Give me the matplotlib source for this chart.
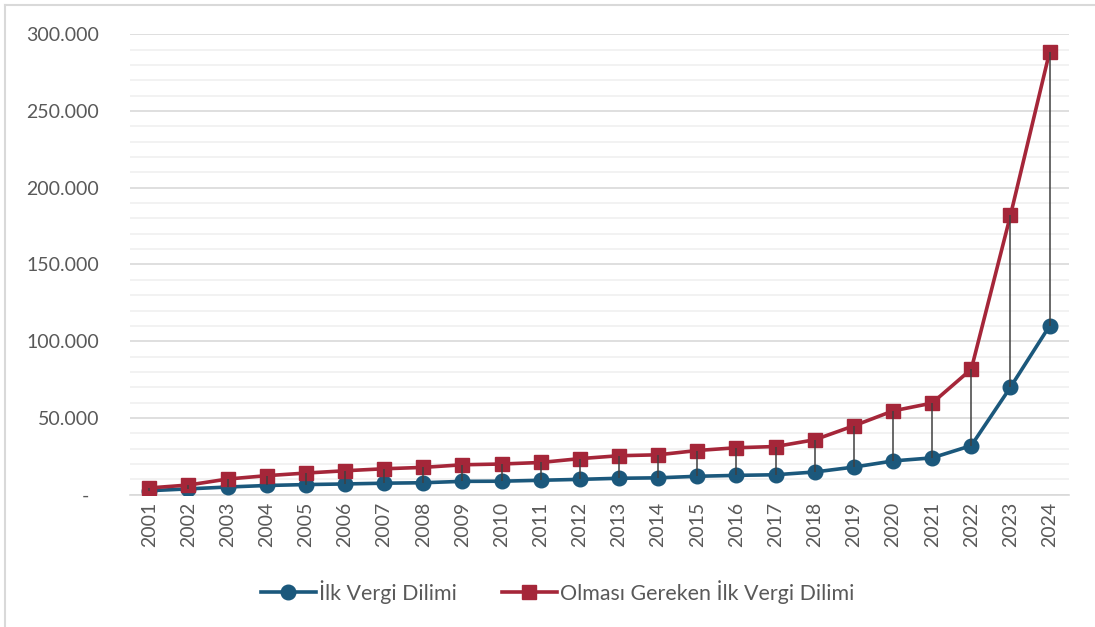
"""Line chart: first income-tax bracket vs. what it should have been, 2001-2024."""
import numpy as np, matplotlib
matplotlib.use("Agg")
import matplotlib.pyplot as plt
from matplotlib.ticker import MultipleLocator, FuncFormatter

years = list(range(2001, 2025))
ilk_dilim = [2600, 3800, 5000, 6000, 6600, 7000, 7500, 7800, 8700, 8800, 9400, 10000,
             10700, 11000, 12000, 12600, 13000, 14800, 18000, 22000, 24000, 32000, 70000, 110000]
olmasi_gereken = [4400, 6300, 10200, 12400, 14100, 15600, 16900, 17800, 19500, 20000, 21000, 23500,
                  25400, 26000, 28800, 30600, 31400, 35800, 44900, 54600, 59700, 81800, 182000, 288500]

BLUE, RED, GRAY = "#1b587c", "#a52639", "#595959"


def _fmt(v, _):
    if v == 0:
        return "-  "
    return f"{int(v):,}".replace(",", ".")


def main(out="out.png"):
    plt.rcParams["font.family"] = ["Lato", "DejaVu Sans"]
    fig = plt.figure(figsize=(10.95, 6.27), dpi=100)
    ax = fig.add_axes([0.1184, 0.211, 0.858, 0.7343])

    x = np.arange(len(years))
    ax.plot(x, ilk_dilim, "-o", color=BLUE, lw=2.6, ms=10.5, label="İlk Vergi Dilimi", zorder=3)
    ax.plot(x, olmasi_gereken, "-s", color=RED, lw=2.6, ms=10, label="Olması Gereken İlk Vergi Dilimi", zorder=3)
    ax.vlines(x, ilk_dilim, olmasi_gereken, color="#404040", lw=1.1, zorder=4)

    ax.set_xlim(-0.5, len(years) - 0.5)
    ax.set_ylim(0, 300000)
    ax.yaxis.set_major_locator(MultipleLocator(50000))
    ax.yaxis.set_minor_locator(MultipleLocator(10000))
    ax.yaxis.set_major_formatter(FuncFormatter(_fmt))
    ax.grid(which="minor", axis="y", color="#f0f0f0", lw=1.2, zorder=0)
    ax.grid(which="major", axis="y", color="#d9d9d9", lw=1.2, zorder=0)
    ax.set_axisbelow(True)
    for s in ["top", "right", "left"]:
        ax.spines[s].set_visible(False)
    ax.spines["bottom"].set_color("#d9d9d9"); ax.spines["bottom"].set_linewidth(1.2)

    ax.set_xticks(x)
    ax.set_xticklabels([str(y) for y in years], rotation=90)
    ax.tick_params(axis="x", length=0, pad=5, labelsize=14, labelcolor=GRAY)
    ax.tick_params(axis="y", which="both", length=0, pad=22, labelsize=14, labelcolor=GRAY)

    fig.legend(loc="center", bbox_to_anchor=(0.509, 0.056), ncol=2, frameon=False, fontsize=15.4,
               handlelength=2.57, handletextpad=0.14, columnspacing=2.1, labelcolor=GRAY)

    # chart-area border (only left/top visible in the crop)
    fig.add_artist(plt.Line2D([0.005, 0.005], [0, 0.992], color="#d9d9d9", lw=1.5))
    fig.add_artist(plt.Line2D([0.005, 1], [0.992, 0.992], color="#d9d9d9", lw=1.5))

    fig.savefig(out, dpi=100)


if __name__ == "__main__":
    main()
